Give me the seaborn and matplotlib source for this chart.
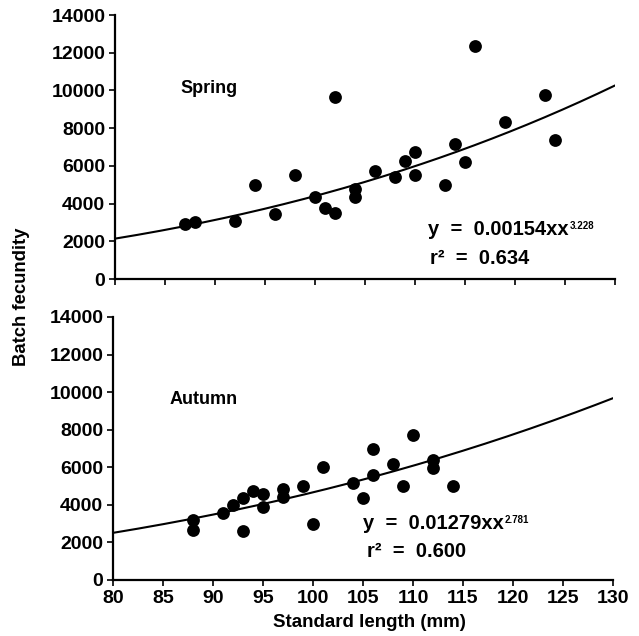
import numpy as np
import pandas as pd
import matplotlib
matplotlib.use("Agg")
import matplotlib.pyplot as plt
import seaborn as sns

# ---- data ----
spring_length = [87, 88, 92, 94, 96, 98, 100, 101, 102, 102, 104, 104,
                 106, 108, 109, 110, 110, 113, 114, 115, 116, 119, 123, 124]
spring_fecundity = [2900, 3000, 3100, 5000, 3450, 5500, 4330, 3760, 3480, 9650, 4770, 4330,
                    5750, 5430, 6280, 6720, 5530, 5000, 7160, 6190, 12340, 8310, 9770, 7380]
autumn_length = [88, 88, 91, 92, 93, 93, 94, 95, 95, 97, 97, 99,
                 100, 101, 104, 105, 106, 106, 108, 109, 110, 112, 112, 114]
autumn_fecundity = [3210, 2640, 3570, 3980, 4370, 2620, 4730, 4580, 3870, 4820, 4400, 4990,
                    2980, 6010, 5170, 4370, 6960, 5580, 6190, 4990, 7720, 6370, 5940, 4990]

# fitted power curves printed on the chart: y = a * x^b
spring_a, spring_b, spring_r2 = 0.00154, 3.228, 0.634
autumn_a, autumn_b, autumn_r2 = 0.01279, 2.781, 0.600

x_ticks = [80, 85, 90, 95, 100, 105, 110, 115, 120, 125, 130]
y_ticks = [0, 2000, 4000, 6000, 8000, 10000, 12000, 14000]

sns.set_style("ticks")
plt.rcParams["font.family"] = ["Liberation Sans", "DejaVu Sans"]
plt.rcParams["font.weight"] = "bold"
for key in ("text.color", "axes.labelcolor", "xtick.color", "ytick.color", "axes.edgecolor"):
    plt.rcParams[key] = "black"

fig = plt.figure(figsize=(6.39, 6.36), dpi=100)
ax_top = fig.add_axes([0.1800, 0.5613, 0.7825, 0.4151])
ax_bot = fig.add_axes([0.1768, 0.0881, 0.7825, 0.4135])

curve_x = np.linspace(80, 130, 200)
TICK_FS = 14
TEXT_FS = 14.5


def draw_panel(ax, lengths, fec, a, b, r2, label, label_pos, eq_pos, r2_pos, show_xlabels):
    df = pd.DataFrame({"length": lengths, "fecundity": fec})
    sns.scatterplot(data=df, x="length", y="fecundity", ax=ax, color="black",
                    s=85, edgecolor="black", linewidth=0, zorder=3)
    cdf = pd.DataFrame({"length": curve_x, "fecundity": a * curve_x ** b})
    sns.lineplot(data=cdf, x="length", y="fecundity", ax=ax, color="black",
                 linewidth=1.5, zorder=2)
    ax.set_xlim(80, 130)
    ax.set_ylim(0, 14000)
    ax.set_xticks(x_ticks)
    ax.set_yticks(y_ticks)
    ax.set_xlabel("")
    ax.set_ylabel("")
    sns.despine(ax=ax)
    for sp in ("left", "bottom"):
        ax.spines[sp].set_linewidth(1.6)
        ax.spines[sp].set_color("black")
    ax.tick_params(axis="both", direction="out", length=4, width=1.2,
                   color="black", labelsize=TICK_FS)
    ax.tick_params(axis="y", pad=3)
    ax.tick_params(axis="x", pad=3)
    if not show_xlabels:
        ax.set_xticklabels([])
    else:
        ax.set_xticklabels([str(v) for v in x_ticks], fontweight="bold")
    ax.set_yticklabels([str(v) for v in y_ticks], fontweight="bold")
    ax.text(label_pos[0], label_pos[1], label, fontsize=13, fontweight="bold",
            ha="left", va="center")
    t1 = ax.text(eq_pos[0], eq_pos[1], f"y  =  {a:.5f}xx", fontsize=TEXT_FS,
                 fontweight="bold", ha="left", va="center")
    ax.annotate(f"{b:.3f}", xy=(1, 1), xycoords=t1, xytext=(0.5, -1),
                textcoords="offset points", fontsize=7, fontweight="bold",
                ha="left", va="top")
    ax.text(r2_pos[0], r2_pos[1], f"r\u00b2  =  {r2:.3f}", fontsize=TEXT_FS,
            fontweight="bold", ha="left", va="center")


draw_panel(ax_top, spring_length, spring_fecundity, spring_a, spring_b, spring_r2,
           "Spring", (86.5, 10100), (111.3, 2650), (111.5, 1110), False)
draw_panel(ax_bot, autumn_length, autumn_fecundity, autumn_a, autumn_b, autumn_r2,
           "Autumn", (85.7, 9630), (105.0, 3030), (105.4, 1490), True)

fig.text(0.033, 0.533, "Batch fecundity", rotation=90, ha="center", va="center",
         fontsize=13.3, fontweight="bold")
fig.text(0.578, 0.022, "Standard length (mm)", ha="center", va="center",
         fontsize=13.5, fontweight="bold")

fig.savefig("out.png", dpi=100)
